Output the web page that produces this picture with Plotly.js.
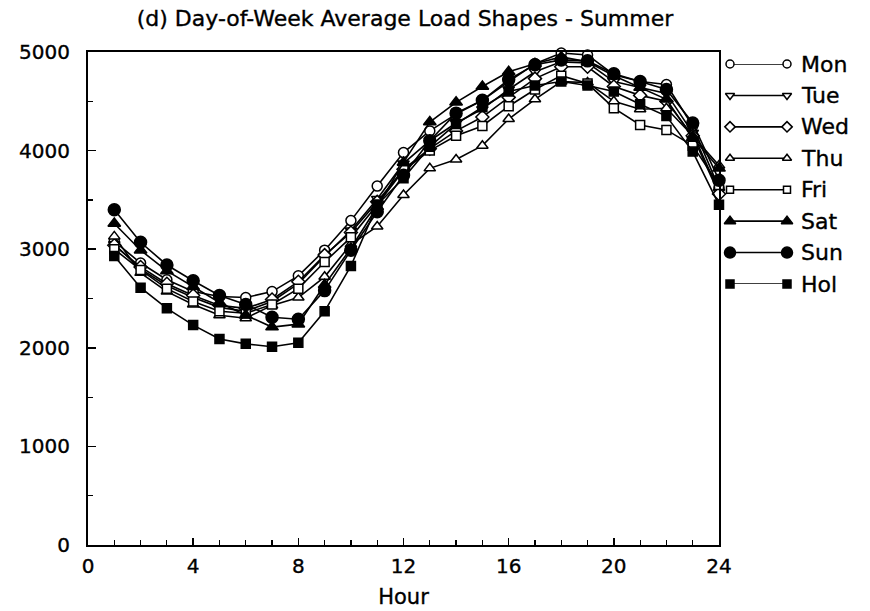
<!DOCTYPE html>
<html>
<head>
<meta charset="utf-8">
<script src="https://cdn.plot.ly/plotly-3.0.1.min.js"></script>
<style>
html,body{margin:0;padding:0;background:#fff;}
#chart{width:870px;height:611px;}
#chart svg text{stroke:#000;stroke-width:0.35px;}
</style>
</head>
<body>
<div id="chart"></div>
<script>
const hours = [1,2,3,4,5,6,7,8,9,10,11,12,13,14,15,16,17,18,19,20,21,22,23,24];
const seriesNames = ["Mon","Tue","Wed","Thu","Fri","Sat","Sun","Hol"];
const mon = [3080,2860,2690,2570,2520,2510,2570,2730,2990,3290,3640,3980,4200,4370,4510,4700,4880,4990,4970,4770,4700,4670,4250,3620];
const tue = [3050,2800,2630,2510,2410,2370,2470,2650,2930,3190,3510,3870,4100,4280,4420,4620,4800,4900,4890,4700,4640,4580,4180,3580];
const wed = [3040,2820,2650,2530,2430,2400,2490,2670,2940,3170,3480,3810,4020,4200,4340,4540,4730,4850,4850,4650,4560,4500,4150,3560];
const thu = [3130,2760,2570,2440,2330,2300,2430,2510,2720,3050,3230,3550,3820,3910,4050,4320,4520,4700,4690,4500,4420,4430,4150,3850];
const fri = [3000,2790,2600,2470,2370,2350,2440,2600,2870,3120,3450,3800,4000,4150,4250,4450,4620,4760,4680,4430,4260,4210,4050,3650];
const sat = [3260,2990,2780,2620,2460,2330,2210,2240,2640,3010,3430,3880,4290,4490,4650,4800,4880,4950,4900,4760,4640,4520,4130,3820];
const sun = [3400,3070,2840,2680,2530,2440,2310,2290,2580,2990,3380,3750,4100,4380,4510,4720,4870,4920,4910,4780,4700,4620,4280,3700];
const hol = [2930,2610,2400,2230,2090,2040,2010,2050,2370,2830,3450,3720,4040,4270,4440,4600,4660,4700,4660,4600,4470,4350,3990,3450];
const xTickVals = [0,4,8,12,16,20,24];
const yTickVals = [0,1000,2000,3000,4000,5000];

const allData = [mon,tue,wed,thu,fri,sat,sun,hol];
const symbols = ["circle","triangle-down","diamond","triangle-up","square","triangle-up","circle","square"];
const fills = ["white","white","white","white","white","black","black","black"];
const sizes = [10,10,10,10,9,11,12,9];
const legendSizes = [8,8,8,8,7,10,11,8];

const FONT = 'DejaVu Sans, Verdana, sans-serif';
const traces = [];
allData.forEach((vals,i)=>{
  traces.push({
    x: hours, y: vals, type:'scatter', mode:'lines+markers', name: seriesNames[i],
    showlegend:false, cliponaxis:false,
    line:{color:'black', width:1.6},
    marker:{symbol:symbols[i], size:sizes[i], color:fills[i], line:{color:'black', width:1.5}}
  });
});
// custom legend: a line with a marker at each end, drawn on a hidden overlay axis
const annotations = [];
seriesNames.forEach((nm,i)=>{
  traces.push({
    x:[0,1], y:[i,i], xaxis:'x2', yaxis:'y2', type:'scatter', mode:'lines+markers',
    showlegend:false, hoverinfo:'skip', cliponaxis:false,
    line:{color:'black', width:1.6},
    marker:{symbol:symbols[i], size:legendSizes[i], color:fills[i], line:{color:'black', width:1.5}}
  });
  annotations.push({xref:'x2', yref:'y2', x:1, y:i, xshift:12, text:nm, showarrow:false,
    xanchor:'left', yanchor:'middle', font:{family:FONT, size:22, color:'black'}});
});

const font = {family:FONT, size:20, color:'black'};
const layout = {
  width:870, height:611,
  margin:{l:88, r:10, t:52, b:66},
  paper_bgcolor:'white', plot_bgcolor:'white',
  showlegend:false,
  font: font,
  annotations: annotations,
  title:{text:'(d) Day-of-Week Average Load Shapes - Summer', x:405/870, xanchor:'center', xref:'container',
         y:1-18/611, yanchor:'middle', yref:'container',
         font:{family:FONT, size:22, color:'black'}},
  xaxis:{domain:[0, 631/772], range:[0,24], tickvals:xTickVals, ticks:'inside', ticklen:7, tickwidth:1.5, tickcolor:'black',
         minor:{dtick:1, ticks:'inside', ticklen:5, tickwidth:1.2, tickcolor:'black'},
         showline:true, linecolor:'black', linewidth:2, mirror:true, showgrid:false, zeroline:false,
         tickfont:font, ticklabelstandoff:2,
         title:{text:'Hour', font:{family:FONT, size:21, color:'black'}, standoff:12}},
  yaxis:{range:[0,5000], tickvals:yTickVals, ticks:'inside', ticklen:8, tickwidth:1.5, tickcolor:'black',
         minor:{dtick:500, ticks:'inside', ticklen:5, tickwidth:1.2, tickcolor:'black'},
         showline:true, linecolor:'black', linewidth:2, mirror:true, showgrid:false, zeroline:false,
         tickfont:font, ticklabelstandoff:12},
  xaxis2:{domain:[642/772, 699/772], range:[0,1], anchor:'y2', visible:false, fixedrange:true},
  yaxis2:{domain:[261/493, 481/493], range:[7,0], anchor:'x2', visible:false, fixedrange:true}
};
Plotly.newPlot('chart', traces, layout, {displayModeBar:false, staticPlot:true});
</script>
</body>
</html>
